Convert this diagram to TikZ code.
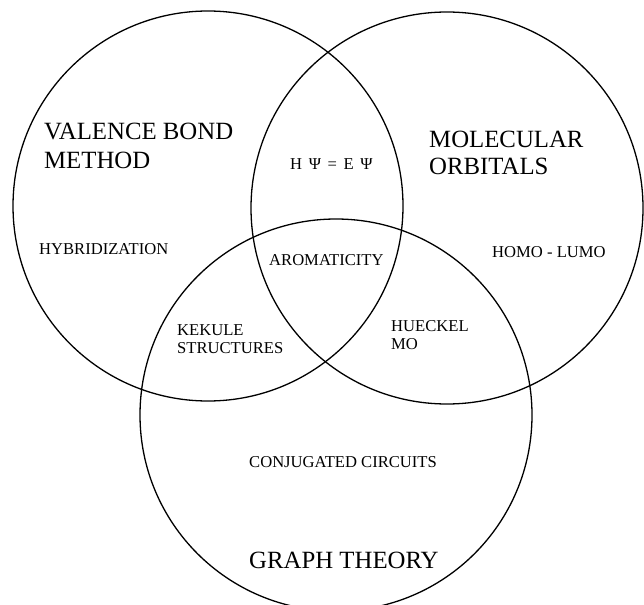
\documentclass[tikz,border=0pt]{standalone}
\usepackage{fontspec}
\setmainfont{Liberation Serif}
\tikzset{
  venn/.style={draw=black, line width=1.3pt},
  bigtitle/.style={font=\fontsize{24.8}{28}\selectfont, inner sep=0pt, align=left, anchor=north west},
  smalltxt/.style={font=\fontsize{16.6}{18}\selectfont, inner sep=0pt, align=left, anchor=north west},
}
\newcommand{\gap}{\hspace{0.4em}}
\begin{document}
\begin{tikzpicture}[x=1pt,y=-1pt]
\useasboundingbox (0,0) rectangle (644,604);
\clip (0,0) rectangle (644,604);
\fill[white] (0,0) rectangle (644,604);
% circles
\draw[venn] (208,206) circle[radius=195pt];
\draw[venn] (447,208) circle[radius=196pt];
\draw[venn] (336,415) circle[radius=196pt];
% titles
\node[bigtitle, font=\fontsize{24.8}{28.6}\selectfont] (vb) at (44,123) {VALENCE BOND\\METHOD};
\node[bigtitle, font=\fontsize{24.8}{27}\selectfont] (mo) at (429,131) {MOLECULAR\\ORBITALS};
\node[bigtitle, anchor=base west] (gt) at (249,568) {GRAPH THEORY};
% inner labels
\node[smalltxt, anchor=base west] (hyb) at (39,254) {HYBRIDIZATION};
\node[smalltxt, anchor=base west] (sch) at (290,169) {H\gap Ψ\gap =\gap E\gap Ψ};
\node[smalltxt, anchor=base west] (aro) at (269,265) {AROMATICITY};
\node[smalltxt, anchor=base west] (hl) at (492,257) {HOMO - LUMO};
\node[smalltxt, font=\fontsize{16.6}{18.5}\selectfont] (kek) at (177,324) {KEKULE\\STRUCTURES};
\node[smalltxt, font=\fontsize{16.6}{18.5}\selectfont] (hue) at (391,320) {HUECKEL\\MO};
\node[smalltxt, anchor=base west] (cc) at (249,467) {CONJUGATED CIRCUITS};
\end{tikzpicture}
\end{document}
